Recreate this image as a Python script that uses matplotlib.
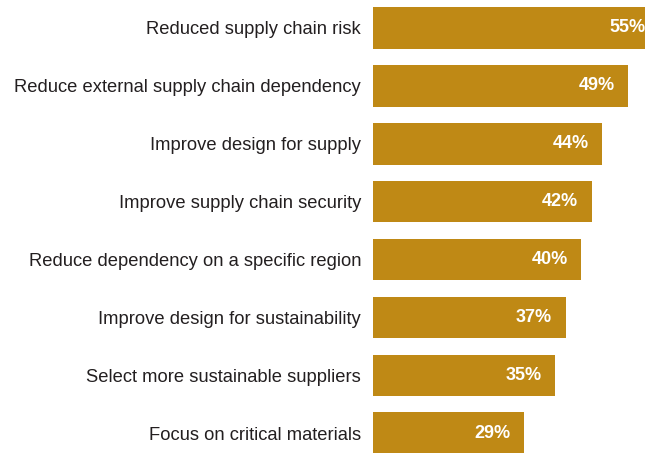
import matplotlib.pyplot as plt

labels = ['Reduced supply chain risk',
          'Reduce external supply chain dependency',
          'Improve design for supply',
          'Improve supply chain security',
          'Reduce dependency on a specific region',
          'Improve design for sustainability',
          'Select more sustainable suppliers',
          'Focus on critical materials']
values = [55, 49, 44, 42, 40, 37, 35, 29]

bar_color = '#BF8915'
text_color = '#231F20'

plt.rcParams['font.family'] = ['Liberation Sans', 'DejaVu Sans']

fig = plt.figure(figsize=(6.45, 4.53), dpi=100)
ax = fig.add_axes([373 / 645, 0, 1 - 373 / 645, 1])

y = list(range(len(labels)))
ax.barh(y, values, height=0.72, color=bar_color)

for i, v in enumerate(values):
    ax.annotate(f'{v}%', xy=(v, i), xytext=(-10, 0), textcoords='offset points',
                ha='right', va='center', color='white', fontsize=13,
                fontweight='bold', annotation_clip=False)

ax.set_xlim(0, 52.2)
ax.set_ylim(7.34, -0.48)
ax.set_yticks(y)
ax.set_yticklabels(labels, fontsize=13.25, color=text_color)
ax.tick_params(axis='y', length=0, pad=8.5)
ax.set_xticks([])
for s in ax.spines.values():
    s.set_visible(False)

fig.savefig('out.png', dpi=100)
